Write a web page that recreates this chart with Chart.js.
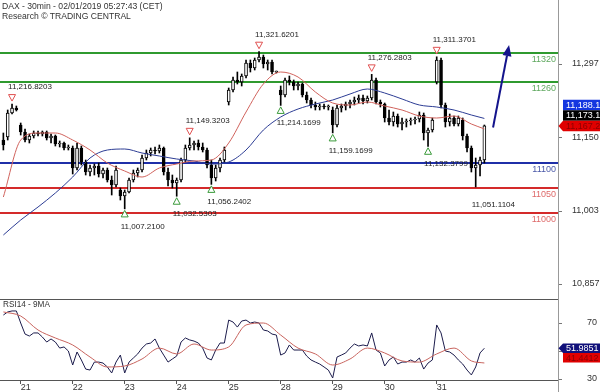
<!DOCTYPE html>
<html><head><meta charset="utf-8">
<script src="https://cdn.jsdelivr.net/npm/chart.js@4.4.1/dist/chart.umd.min.js"></script>
<style>
html,body{margin:0;padding:0;background:#fff;width:600px;height:392px;overflow:hidden;position:relative;font-family:"Liberation Sans",Arial,sans-serif}
canvas{position:absolute;left:0}
#c1{top:0}
#c2{top:298px}
.t{position:absolute;left:2px;font-size:8.6px;color:#333;line-height:10px;white-space:nowrap;z-index:5}
</style></head><body>
<canvas id="c1" width="600" height="298"></canvas>
<canvas id="c2" width="600" height="94"></canvas>
<div class="t" style="top:1px">DAX - 30min - 02/01/2019 05:27:43 (CET)</div>
<div class="t" style="top:11px">Research © TRADING CENTRAL</div>
<div class="t" style="top:300px;left:3px;font-size:8.2px">RSI14 - 9MA</div>
<script>
// ---------------- DATA ----------------
const BPD = 12;        // bars per trading day (x unit = trading day)
const FIRST_BAR = -4;  // first bar index relative to the 21st open
const dayLabels = ['21','22','23','24','25','28','29','30','31'];
const priceTicks = [11297, 11150, 11003, 10857];
const rsiTicks = [70, 50, 30];

const openP = [11145,11151,11199,11209,
 11175,11161,11145,11153,11159,11157,11161,11149,11153,11137,11139,11129,
 11129,11089,11129,11101,11081,11089,11093,11077,11085,11065,11055,11045,
 11033,11041,11065,11079,11085,11109,11119,11125,11123,11129,11081,11065,
 11059,11065,11105,11129,11135,11139,11131,11125,11095,11069,11089,11105,
 11221,11245,11265,11261,11273,11299,11289,11305,11311,11297,11301,11281,
 11245,11235,11265,11261,11253,11257,11235,11225,11215,11211,11213,11211,
 11205,11175,11209,11213,11217,11221,11225,11229,11223,11229,11265,11221,
 11217,11189,11181,11193,11177,11181,11183,11185,11187,11195,11159,11165,
 11261,11305,11215,11181,11189,11177,11185,11153,11129,11089,11095,11105];
const highP = [11159,11205,11216.82,11213,
 11179,11167,11157,11163,11163,11163,11163,11157,11155,11143,11141,11135,
 11133,11139,11133,11105,11095,11097,11099,11089,11089,11073,11093,11049,
 11045,11069,11085,11089,11115,11125,11129,11131,11135,11131,11089,11075,
 11069,11109,11135,11149.32,11143,11145,11139,11129,11105,11095,11109,11131,
 11249,11271,11281,11277,11305,11305,11309,11321.62,11315,11305,11305,11283,
 11253,11269,11273,11265,11261,11259,11241,11229,11221,11217,11217,11215,
 11211,11215,11217,11221,11225,11231,11235,11235,11233,11276.28,11269,11225,
 11219,11205,11201,11197,11189,11187,11189,11191,11201,11199,11169,11189,
 11311.37,11309,11219,11197,11193,11193,11189,11157,11133,11109,11111,11175];
const lowP = [11125,11145,11197,11203,
 11155,11141,11139,11149,11153,11153,11145,11139,11133,11131,11125,11125,
 11077,11085,11095,11075,11073,11075,11071,11069,11061,11035,11051,11025,
 11007.21,11039,11061,11071,11081,11105,11113,11117,11119,11075,11053,11049,
 11032.53,11061,11101,11125,11125,11125,11121,11089,11056.24,11063,11081,11101,
 11215,11241,11257,11253,11269,11281,11285,11301,11289,11285,11277,11279,
 11214.17,11231,11255,11245,11245,11231,11219,11209,11205,11205,11207,11205,
 11159.17,11171,11201,11205,11209,11215,11219,11217,11219,11225,11217,11211,
 11181,11175,11173,11171,11165,11171,11175,11177,11181,11145,11132.38,11161,
 11257,11209,11171,11173,11173,11173,11145,11121,11081,11051.11,11073,11099];
const closeP = [11135,11199,11209,11205,
 11161,11145,11153,11159,11157,11161,11149,11153,11137,11139,11129,11131,
 11089,11129,11101,11081,11089,11093,11077,11085,11065,11055,11085,11033,
 11041,11065,11079,11085,11109,11119,11125,11123,11129,11081,11065,11059,
 11065,11105,11129,11135,11139,11131,11125,11095,11069,11089,11105,11125,
 11245,11265,11261,11273,11299,11289,11305,11311,11297,11301,11281,11281,
 11235,11265,11261,11253,11257,11235,11225,11215,11211,11213,11211,11213,
 11175,11209,11213,11217,11221,11225,11229,11223,11229,11265,11221,11217,
 11189,11181,11193,11177,11181,11183,11185,11187,11195,11159,11165,11185,
 11305,11215,11181,11189,11177,11189,11153,11129,11089,11095,11105,11173.1];

const rsi14 = [75.7,77.9,78.6,78.6,
 70,62.1,60.7,62.9,62.9,60,56.4,58.6,56.4,52.1,52.9,50,
 40,49.3,43.6,37.1,36.4,42.1,42.1,41.4,38.6,34.3,42.1,47.1,
 34.3,42.1,45,47.9,52.1,55,55.7,58.6,52.1,47.1,42.1,44.3,
 46.4,56.4,59.3,57.9,57.1,55.7,52.1,45,43.6,50.7,55.7,55.7,
 72.1,70.7,67.1,71.4,72.1,70,70.7,70,65,64.3,62.1,61.4,
 47.1,48.6,54.3,50.7,50.7,50.7,46.4,43.6,42.1,40.7,38.6,36.4,
 30.7,45.7,47.1,48.6,52.1,55,53.6,54.3,53.6,62.9,50.7,48.6,
 39.3,43.6,45.7,40.7,42.1,42.1,43.6,42.1,45,37.1,41.4,43.6,
 68.6,62.9,50,49.3,47.1,43.6,40.7,36.4,32.9,38.6,48.6,51.9851];

const maIdx  = [-4,0,4,8,12,16,20,24,28,32,36,40,44,48,52,56,60,64,68,72,76,80,84,88,92,96,100,104,107];
const maRed  = [11031,11145,11159,11159,11145,11125,11099,11083,11071,11089,11097,11103,11105,11139,11201,11257,11281,11271,11241,11219,11215,11221,11213,11205,11193,11189,11193,11177,11167.2];
const maBlue = [10955,10985,11011,11039,11071,11109,11125,11127,11119,11113,11107,11103,11097,11101,11125,11165,11191,11207,11217,11225,11237,11247,11239,11227,11215,11211,11205,11195,11188.14];
const rsiMa9 = [77.9,75,65,59.3,54.3,45.7,38.6,39.3,44.3,52.1,47.9,55,50.7,52.9,68.6,70,61.4,52.1,47.9,40,44.3,52.1,48.6,42.9,42.1,47.9,52.1,42.9,41.4412];

const levelVals = [11320, 11260, 11100, 11050, 11000];

const pivotIdx  = [-2, 55, 81, 96, 39, 24, 36, 44, 60, 72, 94, 105];
const pivotVal  = [11216.8203, 11321.6201, 11276.2803, 11311.3701, 11149.3203, 11007.2100, 11032.5303, 11056.2402, 11214.1699, 11159.1699, 11132.3799, 11051.1104];
const pivotType = ['H','H','H','H','H','L','L','L','L','L','L','L'];
const pivotMark = [1,1,1,1,1,1,1,1,1,1,1,0];

const arrowIdx = [109, 112.7];
const arrowVal = [11170, 11335];

// ---------------- STYLE ----------------
const FONT = '"Liberation Sans", Arial, sans-serif';
Chart.defaults.font.family = FONT;
const levelLine = ['#2f9a2f','#2f9a2f','#1f2fa8','#d42a2a','#d42a2a'];
const levelText = ['#5fa85f','#5fa85f','#4a58a8','#de6a6a','#de6a6a'];
const X_MIN = -20.7/52, X_MAX = -20.7/52 + 558/52;

const barIdx = openP.map((_, k) => FIRST_BAR + k);
const bx = barIdx.map(i => i / BPD);
const fmt4 = v => v.toLocaleString('en-US', {minimumFractionDigits: 4, maximumFractionDigits: 4});

function drawTag(ctx, x0, cy, h, fill, tc, text, arrow) {
  ctx.fillStyle = fill;
  ctx.beginPath();
  if (arrow) { ctx.moveTo(x0 + 0.5, cy); ctx.lineTo(x0 + 5, cy - h/2); }
  else ctx.moveTo(x0 + 5, cy - h/2);
  ctx.lineTo(600, cy - h/2); ctx.lineTo(600, cy + h/2); ctx.lineTo(x0 + 5, cy + h/2);
  ctx.closePath(); ctx.fill();
  ctx.fillStyle = tc; ctx.textAlign = 'left'; ctx.textBaseline = 'middle';
  ctx.font = '9px ' + FONT;
  ctx.fillText(text, x0 + 8, cy + 0.5);
}

const mainDecor = {
  id: 'mainDecor',
  beforeDatasetsDraw(chart) {
    const {ctx, chartArea: a, scales: {y}} = chart;
    ctx.save();
    ctx.font = '9px ' + FONT; ctx.textAlign = 'right'; ctx.textBaseline = 'middle';
    levelVals.forEach((v, k) => {
      const py = Math.round(y.getPixelForValue(v));
      ctx.strokeStyle = levelLine[k]; ctx.lineWidth = 2;
      ctx.beginPath(); ctx.moveTo(a.left, py); ctx.lineTo(a.right, py); ctx.stroke();
      ctx.fillStyle = levelText[k];
      ctx.fillText(String(v), a.right - 2, py + 6.5);
    });
    ctx.restore();
  },
  afterDatasetsDraw(chart) {
    const {ctx, scales: {x, y}} = chart;
    ctx.save();
    ctx.font = '8px ' + FONT; ctx.textAlign = 'left'; ctx.textBaseline = 'middle';
    pivotIdx.forEach((bi, k) => {
      const px = x.getPixelForValue(bi / BPD), py = y.getPixelForValue(pivotVal[k]);
      const hi = pivotType[k] === 'H';
      if (pivotMark[k]) {
        const cy = hi ? py - 6.5 : py + 5;
        ctx.beginPath();
        if (hi) { ctx.moveTo(px - 3.5, cy - 3); ctx.lineTo(px + 3.5, cy - 3); ctx.lineTo(px, cy + 3.5); }
        else { ctx.moveTo(px - 3.5, cy + 3); ctx.lineTo(px + 3.5, cy + 3); ctx.lineTo(px, cy - 3.5); }
        ctx.closePath();
        ctx.fillStyle = '#ffffff'; ctx.fill();
        ctx.strokeStyle = hi ? '#e05050' : '#3a9a3a'; ctx.lineWidth = 1; ctx.stroke();
      }
      ctx.fillStyle = '#222';
      ctx.fillText(fmt4(pivotVal[k]), px - 4, hi ? py - 17 : py + 17.5);
    });
    // forecast arrow
    const x0 = x.getPixelForValue(arrowIdx[0] / BPD), y0 = y.getPixelForValue(arrowVal[0]);
    const x1 = x.getPixelForValue(arrowIdx[1] / BPD), y1 = y.getPixelForValue(arrowVal[1]);
    const ang = Math.atan2(y1 - y0, x1 - x0), L = 11, W = 4.5;
    const bxp = x1 - L * Math.cos(ang), byp = y1 - L * Math.sin(ang);
    ctx.strokeStyle = '#14148c'; ctx.fillStyle = '#14148c'; ctx.lineWidth = 2;
    ctx.beginPath(); ctx.moveTo(x0, y0); ctx.lineTo(bxp, byp); ctx.stroke();
    ctx.beginPath(); ctx.moveTo(x1, y1);
    ctx.lineTo(bxp + W * Math.sin(ang), byp - W * Math.cos(ang));
    ctx.lineTo(bxp - W * Math.sin(ang), byp + W * Math.cos(ang));
    ctx.closePath(); ctx.fill();
    ctx.restore();
  },
  afterDraw(chart) {
    const {ctx, chartArea: a, scales: {y}} = chart;
    ctx.save();
    const redC = y.getPixelForValue(maRed[maRed.length - 1]) - 3;
    const blackC = redC - 10.5, blueC = blackC - 10.5;
    drawTag(ctx, a.right, blueC, 10.5, '#1436e0', '#ffffff', fmt4(maBlue[maBlue.length - 1]), false);
    drawTag(ctx, a.right, blackC, 10.5, '#000000', '#ffffff', fmt4(closeP[closeP.length - 1]), false);
    drawTag(ctx, a.right, redC, 10.5, '#e00000', '#8a0000', fmt4(maRed[maRed.length - 1]), true);
    ctx.restore();
  }
};

const rsiDecor = {
  id: 'rsiDecor',
  afterDraw(chart) {
    const {ctx, chartArea: a, scales: {y}} = chart;
    ctx.save();
    ctx.lineWidth = 1;
    ctx.strokeStyle = '#555';
    ctx.beginPath(); ctx.moveTo(0, 1.5); ctx.lineTo(a.right, 1.5); ctx.stroke();
    ctx.strokeStyle = '#999';
    ctx.beginPath(); ctx.moveTo(a.right + 0.5, 0); ctx.lineTo(a.right + 0.5, chart.height); ctx.stroke();
    const nC = y.getPixelForValue(rsi14[rsi14.length - 1]);
    drawTag(ctx, a.right, nC, 9.5, '#10107a', '#ffffff', rsi14[rsi14.length - 1].toFixed(4), true);
    drawTag(ctx, a.right, nC + 9.5, 9.5, '#e00000', '#8a0000', rsiMa9[rsiMa9.length - 1].toFixed(4), false);
    ctx.restore();
  }
};

// ---------------- MAIN PRICE CHART ----------------
new Chart(document.getElementById('c1'), {
  type: 'bar',
  data: {
    datasets: [
      { type: 'line', data: maIdx.map((i, k) => ({x: i / BPD, y: maRed[k]})), borderColor: '#d0625c', borderWidth: 1, pointRadius: 0, cubicInterpolationMode: 'monotone', order: 1 },
      { type: 'line', data: maIdx.map((i, k) => ({x: i / BPD, y: maBlue[k]})), borderColor: '#2c3c94', borderWidth: 1, pointRadius: 0, cubicInterpolationMode: 'monotone', order: 1 },
      { type: 'bar', data: bx.map((x, k) => ({x, y: [lowP[k], highP[k]]})), backgroundColor: '#000', barThickness: 1, grouped: false, order: 3 },
      { type: 'bar', data: bx.map((x, k) => ({x, y: [openP[k], closeP[k]]})),
        backgroundColor: closeP.map((c, k) => c >= openP[k] ? '#ffffff' : '#000000'),
        borderColor: '#000', borderWidth: 1, borderSkipped: false, barThickness: 3, minBarLength: 1, grouped: false, order: 2 }
    ]
  },
  options: {
    animation: false, responsive: false, devicePixelRatio: 1,
    layout: { padding: 0, autoPadding: false },
    plugins: { legend: { display: false }, tooltip: { enabled: false } },
    scales: {
      x: { type: 'linear', min: X_MIN, max: X_MAX, display: false, offset: false, grid: { offset: false } },
      y: { type: 'linear', position: 'right', min: 10829, max: 11425,
        afterBuildTicks: s => { s.ticks = priceTicks.map(v => ({value: v})); },
        afterFit: s => { s.width = 42; s.paddingTop = 0; s.paddingBottom = 0; },
        grid: { drawOnChartArea: false, tickLength: 4, color: '#777' },
        border: { display: true, color: '#999' },
        ticks: { padding: 10, font: { size: 9 }, color: '#333', callback: v => v.toLocaleString('en-US') }
      }
    }
  },
  plugins: [mainDecor]
});

// ---------------- RSI CHART ----------------
new Chart(document.getElementById('c2'), {
  type: 'line',
  data: {
    datasets: [
      { data: rsiMa9.map((v, k) => ({x: maIdx[k] / BPD, y: v})), borderColor: '#c8645e', borderWidth: 1, pointRadius: 0, cubicInterpolationMode: 'monotone' },
      { data: rsi14.map((v, k) => ({x: bx[k], y: v})), borderColor: '#1c1c4c', borderWidth: 1, pointRadius: 0, tension: 0 }
    ]
  },
  options: {
    animation: false, responsive: false, devicePixelRatio: 1,
    layout: { padding: { top: 2, left: 0, right: 0, bottom: 0 }, autoPadding: false },
    plugins: { legend: { display: false }, tooltip: { enabled: false } },
    scales: {
      x: { type: 'linear', min: X_MIN, max: X_MAX, offset: false,
        afterBuildTicks: s => { s.ticks = dayLabels.map((d, k) => ({value: k})); },
        afterFit: s => { s.height = 12; s.paddingLeft = 0; s.paddingRight = 0; },
        grid: { drawOnChartArea: false, tickLength: 4, color: '#555', offset: false },
        border: { display: true, color: '#555' },
        ticks: { align: 'start', padding: -2, maxRotation: 0, autoSkip: false, font: { size: 9 }, color: '#333',
          callback: v => dayLabels[Math.round(v)] }
      },
      y: { type: 'linear', position: 'right', min: 29.29, max: 86.43,
        afterBuildTicks: s => { s.ticks = rsiTicks.map(v => ({value: v})); },
        afterFit: s => { s.width = 42; s.paddingTop = 0; s.paddingBottom = 0; },
        grid: { drawOnChartArea: false, tickLength: 4, color: '#777' },
        border: { display: true, color: '#999' },
        ticks: { padding: 25, font: { size: 9 }, color: '#333' }
      }
    }
  },
  plugins: [rsiDecor]
});
</script>
</body></html>
